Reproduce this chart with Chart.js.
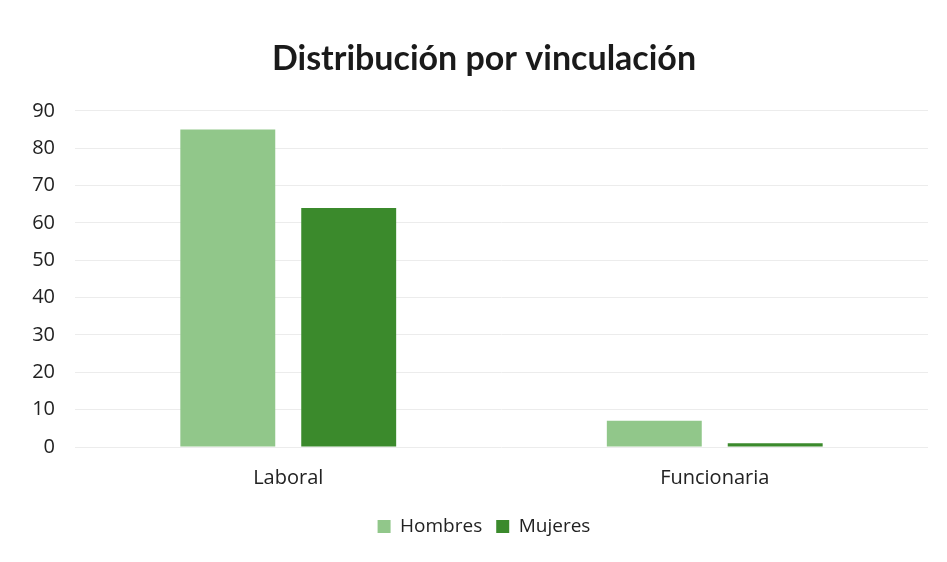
<!DOCTYPE html>
<html>
<head>
<meta charset="utf-8">
<script src="https://cdn.jsdelivr.net/npm/chart.js@4"></script>
<style>
  html, body { margin: 0; padding: 0; background: #ffffff; }
  #wrap { width: 947px; height: 562px; position: relative; }
</style>
</head>
<body>
<div id="wrap"><canvas id="c"></canvas></div>
<script>
const categories = ['Laboral', 'Funcionaria'];
const hombres = [85, 7];
const mujeres = [64, 1];
const yTicks = [0, 10, 20, 30, 40, 50, 60, 70, 80, 90];

const titleFont = "Lato, 'Open Sans', sans-serif";
const textFont = "'Open Sans', Lato, sans-serif";

// Let the y-axis labels extend into the left padding without being clipped
const widenYLabels = {
  id: 'widenYLabels',
  afterLayout(chart) { chart.scales.y.left = 0; }
};

new Chart(document.getElementById('c'), {
  type: 'bar',
  data: {
    labels: categories,
    datasets: [
      { label: 'Hombres', data: hombres, backgroundColor: '#91c78a', barPercentage: 0.785, categoryPercentage: 0.567 },
      { label: 'Mujeres', data: mujeres, backgroundColor: '#3b8a2c', barPercentage: 0.785, categoryPercentage: 0.567 }
    ]
  },
  plugins: [widenYLabels],
  options: {
    responsive: true,
    maintainAspectRatio: false,
    animation: false,
    layout: { padding: { left: 40, right: 19, top: 39, bottom: 16 } },
    plugins: {
      title: {
        display: true,
        text: 'Distribución por vinculación',
        color: '#1a1a1a',
        font: { family: titleFont, size: 34, weight: 'bold' },
        padding: { top: 0, bottom: 31 }
      },
      legend: {
        position: 'bottom',
        labels: {
          color: '#222',
          font: { family: textFont, size: 19 },
          boxWidth: 13,
          boxHeight: 13,
          padding: 14
        }
      },
      tooltip: { enabled: false }
    },
    scales: {
      x: {
        grid: { display: false },
        border: { display: false },
        ticks: { color: '#222', font: { family: textFont, size: 20 }, padding: 11 },
        afterFit: (axis) => { axis.height += 2; }
      },
      y: {
        min: 0,
        max: 90,
        afterBuildTicks: (axis) => { axis.ticks = yTicks.map(v => ({ value: v })); },
        afterFit: (axis) => { axis.width = 35; },
        grid: { color: '#ececec', lineWidth: 1, drawTicks: false },
        border: { display: false },
        ticks: { color: '#222', font: { family: textFont, size: 20 }, padding: 20 }
      }
    }
  }
});
</script>
</body>
</html>
